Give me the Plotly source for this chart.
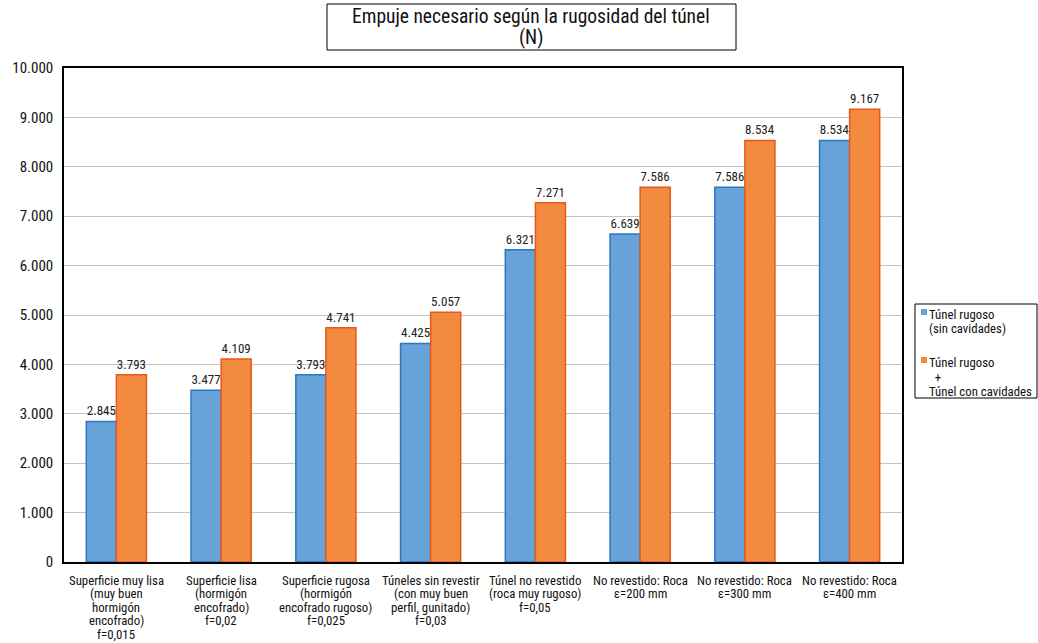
import plotly.graph_objects as go

categories = [
    "Superficie muy lisa<br>(muy buen<br>hormigón<br>encofrado)<br>f=0,015",
    "Superficie lisa<br>(hormigón<br>encofrado)<br>f=0,02",
    "Superficie rugosa<br>(hormigón<br>encofrado rugoso)<br>f=0,025",
    "Túneles sin revestir<br>(con muy buen<br>perfil, gunitado)<br>f=0,03",
    "Túnel no revestido<br>(roca muy rugoso)<br>f=0,05",
    "No revestido: Roca<br>ε=200 mm",
    "No revestido: Roca<br>ε=300 mm",
    "No revestido: Roca<br>ε=400 mm",
]
sin_cavidades = [2845, 3477, 3793, 4425, 6321, 6639, 7586, 8534]
con_cavidades = [3793, 4109, 4741, 5057, 7271, 7586, 8534, 9167]
series_names = ["Túnel rugoso (sin cavidades)", "Túnel rugoso + Túnel con cavidades"]
legend_lines = [["Túnel rugoso", "(sin cavidades)"],
                ["Túnel rugoso", "  +", "Túnel con cavidades"]]
title_lines = ["Empuje necesario según la rugosidad del túnel", "(N)"]

FONT = "Liberation Sans Narrow, Arial Narrow, Roboto Condensed, Roboto, sans-serif"
BLUE, BLUE_LINE = "#67a3d9", "#2a78c2"
ORANGE, ORANGE_LINE = "#f28b3e", "#e8581c"

L, R, T, B = 64, 902, 68, 562
W, H = 1038, 643

def px_x(p):
    return (p - L) / (R - L)

def px_y(p):
    return (B - p) / (B - T)

fig = go.Figure()
fig.add_trace(go.Bar(
    x=categories, y=sin_cavidades, name=series_names[0],
    marker=dict(color=BLUE, line=dict(color=BLUE_LINE, width=1.5)),
    texttemplate="%{y:,d}", textposition="outside",
    textfont=dict(size=13, color="#222"), cliponaxis=False,
))
fig.add_trace(go.Bar(
    x=categories, y=con_cavidades, name=series_names[1],
    marker=dict(color=ORANGE, line=dict(color=ORANGE_LINE, width=1.5)),
    texttemplate="%{y:,d}", textposition="outside",
    textfont=dict(size=13, color="#222"), cliponaxis=False,
))

annotations = []
shapes = []

# title box
shapes.append(dict(type="rect", xref="paper", yref="paper",
                   x0=px_x(327), x1=px_x(736), y0=px_y(4), y1=px_y(50),
                   line=dict(color="black", width=1), fillcolor="white"))
for i, line in enumerate(title_lines):
    annotations.append(dict(
        text=line, xref="paper", yref="paper", x=px_x(531), y=px_y(16.5 + i * 21),
        xanchor="center", yanchor="middle", showarrow=False,
        font=dict(family=FONT, size=19.5, color="#111"),
    ))

# x category labels (multi-line, tight spacing)
for cat in categories:
    for i, line in enumerate(cat.split("<br>")):
        annotations.append(dict(
            text=line, xref="x", yref="paper", x=cat, y=px_y(580 + i * 13.6),
            xanchor="center", yanchor="middle", showarrow=False,
            font=dict(family=FONT, size=12.8, color="#111"),
        ))

# legend
shapes.append(dict(type="rect", xref="paper", yref="paper",
                   x0=px_x(915), x1=px_x(1037), y0=px_y(304), y1=px_y(398),
                   line=dict(color="black", width=1), fillcolor="white", layer="above"))
legend_specs = [(BLUE, [314, 329], legend_lines[0]),
                (ORANGE, [362, 377, 391], legend_lines[1])]
for color, ys, lines in legend_specs:
    shapes.append(dict(type="rect", xref="paper", yref="paper",
                       x0=px_x(921), x1=px_x(927), y0=px_y(ys[0] - 5), y1=px_y(ys[0] + 1),
                       line=dict(width=0), fillcolor=color, layer="above"))
    for yy, line in zip(ys, lines):
        annotations.append(dict(
            text=line, xref="paper", yref="paper",
            x=px_x(927), y=px_y(yy),
            xanchor="left", yanchor="middle", showarrow=False,
            font=dict(family=FONT, size=12.8, color="#111"),
        ))

fig.update_layout(
    width=W, height=H,
    margin=dict(l=L, r=W - R, t=T, b=H - B, autoexpand=False),
    paper_bgcolor="white", plot_bgcolor="white",
    font=dict(family=FONT, size=13, color="#111"),
    separators=",.",
    barmode="group", bargap=0.426, bargroupgap=0,
    showlegend=False,
    annotations=annotations, shapes=shapes,
)
fig.update_yaxes(range=[0, 10000], dtick=1000, tickformat=",d",
                 showgrid=True, gridcolor="#c4c4c4", gridwidth=1,
                 showline=True, linecolor="black", linewidth=1.5, mirror=True,
                 ticks="", tickfont=dict(size=15), ticklabelstandoff=6,
                 zeroline=False, automargin=False)
fig.update_xaxes(showline=True, linecolor="black", linewidth=1.5, mirror=True,
                 ticks="", showticklabels=False, automargin=False)

fig.write_html("out.html")
